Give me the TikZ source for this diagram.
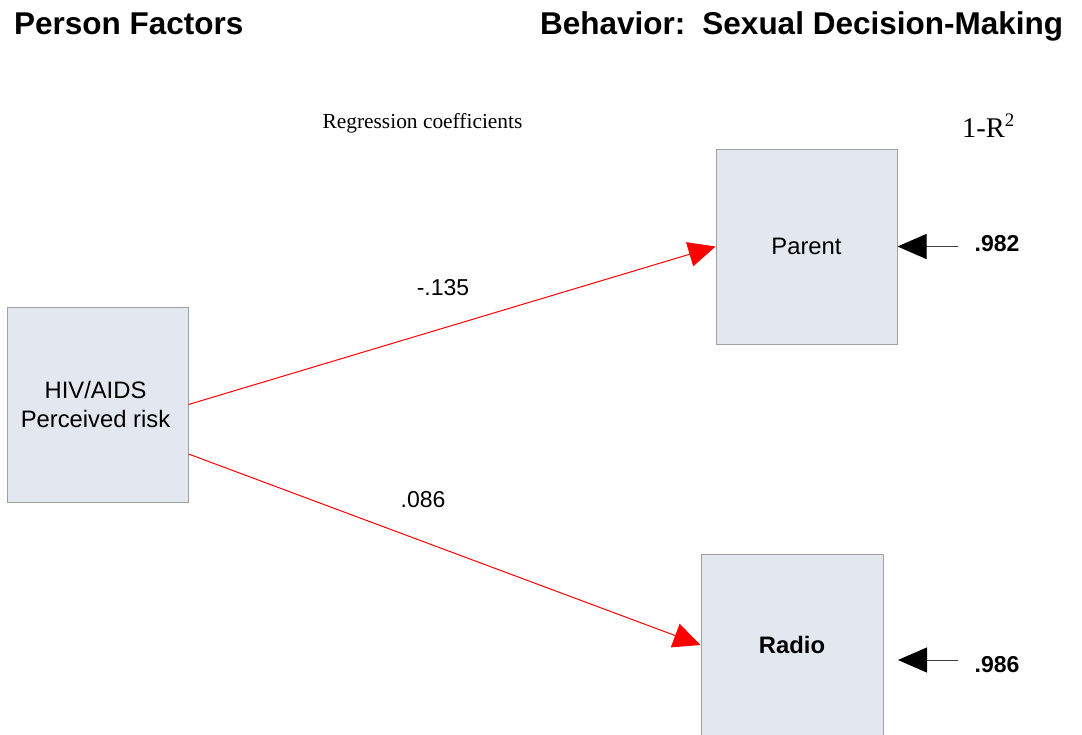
\documentclass[tikz,border=0pt]{standalone}
\usepackage{fontspec}
\setmainfont{Liberation Sans}
\newfontfamily\timesfont{Liberation Serif}
\usetikzlibrary{arrows.meta}
\definecolor{boxfill}{HTML}{E3E7EF}
\definecolor{boxline}{HTML}{A0A0A0}
\definecolor{pathred}{HTML}{FF0000}
\tikzset{
  varbox/.style={draw=boxline, line width=1pt, fill=boxfill, inner sep=0pt,
    minimum width=181pt, align=center, font=\fontsize{23.8}{28.5}\selectfont},
  headline/.style={anchor=base west, inner sep=0pt, font=\fontsize{31.5}{36}\selectfont\bfseries},
  coef/.style={inner sep=0pt, font=\fontsize{23}{28}\selectfont},
  resid/.style={inner sep=0pt, font=\fontsize{23}{28}\selectfont\bfseries},
  regpath/.style={draw=pathred, line width=1pt,
    -{Triangle[length=27pt, width=25pt, color=pathred, fill=pathred]}},
  residarrow/.style={draw=black!75, line width=1pt,
    -{Triangle[length=29pt, width=25pt, color=black, fill=black]}},
}
\begin{document}
\begin{tikzpicture}[x=1pt, y=-1pt]
  \useasboundingbox[fill=white] (0,0) rectangle (1082,734);
  \begin{scope}
  \clip (0,0) rectangle (1082,734);

  % headings
  \node[headline] (hleft) at (14,34) {Person Factors};
  \node[headline] (hright) at (540,34) {Behavior:\hspace{17pt}Sexual Decision-Making};
  \node[inner sep=0pt, anchor=base, font=\timesfont\fontsize{21.4}{25}\selectfont]
    (reg) at (422.5,128) {Regression coefficients};
  \node[inner sep=0pt, anchor=base west, font=\timesfont\fontsize{28.5}{32}\selectfont]
    (rsq) at (962,137) {1-R\raisebox{11pt}{\fontsize{19}{22}\selectfont 2}};

  % variables
  \node[varbox, minimum height=195pt] (hiv) at (97.5,404.5)
    {\hspace*{-4pt}HIV/AIDS\\\hspace*{-4pt}Perceived risk};
  \node[varbox, minimum height=195pt] (parent) at (806.5,246.5) {Parent};
  \node[varbox, minimum height=182pt, minimum width=182pt] (radio) at (792,645)
    {\textbf{Radio}};

  % regression paths
  \draw[regpath] (hiv.east) -- (parent.west);
  \draw[regpath] ([yshift=-49.5pt]hiv.east) -- (radio.west);
  \node[coef] (c1) at (443,288) {-.135};
  \node[coef] (c2) at (423,500) {.086};

  % residual terms
  \coordinate (e1) at (958,246.5);
  \coordinate (e2) at (958,660);
  \coordinate (t2) at (898,660);
  \draw[residarrow] (e1) -- (parent.east);
  \draw[residarrow] (e2) -- (t2);
  \node[resid] (r1) at (997,244) {.982};
  \node[resid] (r2) at (997,665) {.986};
  \end{scope}
\end{tikzpicture}
\end{document}
